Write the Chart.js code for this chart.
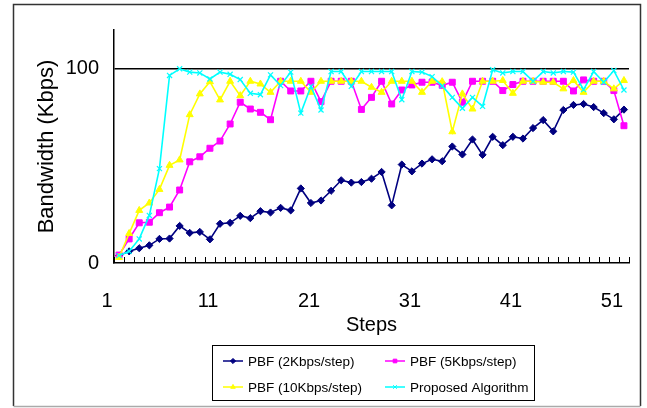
<!DOCTYPE html>
<html>
<head>
<meta charset="utf-8">
<script src="https://cdn.jsdelivr.net/npm/chart.js@4.4.1/dist/chart.umd.min.js"></script>
<style>
  html, body { margin: 0; padding: 0; background: #fff; }
  #wrap { width: 647px; height: 408px; position: relative; }
</style>
</head>
<body>
<div id="wrap"><canvas id="c" width="647" height="408"></canvas></div>
<script>
// Step numbers along the x axis
const steps = ['1','2','3','4','5','6','7','8','9','10','11','12','13','14','15','16','17','18','19','20',
  '21','22','23','24','25','26','27','28','29','30','31','32','33','34','35','36','37','38','39','40',
  '41','42','43','44','45','46','47','48','49','50','51'];

// Bandwidth (Kbps) per step for each scheme
const pbf2 = [3.8, 6.0, 7.6, 9.1, 12.4, 12.6, 19.1, 15.5, 16.0, 12.2,
  20.2, 20.7, 24.3, 23.1, 26.7, 26.0, 28.4, 27.1, 38.4, 30.9,
  32.2, 37.2, 42.6, 41.4, 41.7, 43.4, 46.9, 29.7, 50.7, 47.2,
  51.2, 53.4, 52.4, 60.0, 55.9, 63.6, 55.7, 65.0, 60.7, 65.0,
  64.1, 69.5, 73.6, 67.8, 78.8, 81.4, 81.9, 80.3, 77.2, 74.0, 79.0];

const pbf5 = [4.1, 12.4, 20.7, 21.0, 25.9, 28.8, 37.6, 52.1, 54.7, 59.1,
  62.8, 71.6, 82.8, 79.3, 77.6, 73.8, 93.6, 88.6, 88.6, 93.6,
  83.1, 93.6, 93.6, 93.6, 79.1, 85.3, 93.6, 81.9, 89.1, 91.7,
  93.1, 93.1, 91.5, 93.1, 82.8, 93.6, 93.6, 93.6, 88.8, 91.9,
  93.6, 93.6, 93.6, 93.6, 93.6, 88.6, 94.3, 93.6, 93.6, 88.8, 70.7];

const pbf10 = [2.9, 15.2, 27.1, 30.9, 37.9, 50.3, 53.1, 76.4, 87.1, 93.4,
  84.0, 93.6, 86.2, 93.6, 92.2, 87.9, 93.6, 93.6, 93.6, 87.9,
  93.6, 93.6, 93.6, 93.6, 93.6, 90.5, 87.9, 93.6, 93.6, 93.6,
  87.9, 93.6, 93.4, 67.6, 87.1, 79.3, 93.6, 93.6, 94.0, 87.4,
  93.6, 93.6, 93.1, 93.1, 89.7, 94.0, 87.9, 93.6, 93.6, 89.7, 94.0];

const proposed = [3.8, 6.0, 12.4, 24.5, 48.6, 96.6, 100, 98.3, 97.9, 94.8,
  98.3, 97.2, 94.5, 87.4, 86.7, 96.9, 91.4, 98.3, 77.2, 91.0,
  78.8, 98.6, 98.6, 91.0, 98.6, 98.6, 98.6, 98.6, 84.1, 98.6,
  98.3, 96.0, 91.2, 85.3, 79.7, 85.3, 80.7, 99.5, 97.9, 98.6,
  98.6, 93.6, 98.6, 97.9, 98.6, 98.3, 89.3, 98.6, 93.1, 99.1, 89.1];

const yTickValues = [0, 100];

const FONT = "'Liberation Sans', Arial, Helvetica, sans-serif";

// White page with a thin frame round the whole figure
const framePlugin = {
  id: 'frame',
  beforeDraw(chart) {
    const ctx = chart.ctx;
    ctx.save();
    ctx.fillStyle = '#fff';
    ctx.fillRect(0, 0, chart.width, chart.height);
    ctx.lineWidth = 1.5;
    ctx.strokeStyle = '#333';
    ctx.beginPath();
    ctx.moveTo(13.5, 406);
    ctx.lineTo(13.5, 4.5);
    ctx.lineTo(640.5, 4.5);
    ctx.lineTo(640.5, 406);
    ctx.stroke();
    ctx.strokeStyle = '#aaa';
    ctx.beginPath();
    ctx.moveTo(13.5, 406.5);
    ctx.lineTo(640.5, 406.5);
    ctx.stroke();
    ctx.restore();
  }
};

// Short tick marks on the category boundaries, pointing into the plot
const innerTicksPlugin = {
  id: 'innerTicks',
  afterDraw(chart) {
    const xs = chart.scales.x;
    const ctx = chart.ctx;
    const half = (xs.getPixelForValue(1) - xs.getPixelForValue(0)) / 2;
    ctx.save();
    ctx.strokeStyle = '#000';
    ctx.lineWidth = 1;
    ctx.beginPath();
    for (let k = 0; k <= steps.length; k++) {
      const px = Math.round(xs.getPixelForValue(k) - half) + 0.5;
      ctx.moveTo(px, xs.top);
      ctx.lineTo(px, xs.top - 6);
    }
    ctx.stroke();
    ctx.restore();
  }
};

// Boxed two-column legend under the axis title
const boxLegendPlugin = {
  id: 'boxLegend',
  afterDraw(chart) {
    const ctx = chart.ctx;
    const box = { x: 212.5, y: 345.5, w: 322, h: 55 };
    ctx.save();
    ctx.strokeStyle = '#000';
    ctx.lineWidth = 1;
    ctx.strokeRect(box.x, box.y, box.w, box.h);
    const slots = [
      { ds: 0, x: 223, y: 361 },
      { ds: 1, x: 385, y: 361 },
      { ds: 2, x: 223, y: 387 },
      { ds: 3, x: 385, y: 387 }
    ];
    ctx.font = '13.5px ' + FONT;
    ctx.textBaseline = 'middle';
    ctx.textAlign = 'left';
    slots.forEach(s => {
      const d = chart.data.datasets[s.ds];
      ctx.strokeStyle = d.borderColor;
      ctx.lineWidth = 1.5;
      ctx.beginPath();
      ctx.moveTo(s.x, s.y);
      ctx.lineTo(s.x + 20, s.y);
      ctx.stroke();
      ctx.fillStyle = d.pointBackgroundColor;
      ctx.strokeStyle = d.pointBorderColor;
      ctx.lineWidth = 1;
      Chart.helpers.drawPoint(ctx, { pointStyle: d.pointStyle, radius: 2.6, rotation: 0, borderWidth: 1 }, s.x + 10, s.y);
      ctx.fillStyle = '#000';
      ctx.fillText(d.label, s.x + 25, s.y + 1);
    });
    ctx.restore();
  }
};

const ctx = document.getElementById('c').getContext('2d');
new Chart(ctx, {
  type: 'line',
  data: {
    labels: steps,
    datasets: [
      {
        label: 'PBF (2Kbps/step)', data: pbf2, order: 3,
        borderColor: '#000080', backgroundColor: '#000080',
        pointBackgroundColor: '#000080', pointBorderColor: '#000080',
        pointStyle: 'rectRot', pointRadius: 3.6, borderWidth: 1.6, pointBorderWidth: 1
      },
      {
        label: 'PBF (5Kbps/step)', data: pbf5, order: 2,
        borderColor: '#ff00ff', backgroundColor: '#ff00ff',
        pointBackgroundColor: '#ff00ff', pointBorderColor: '#ff00ff',
        pointStyle: 'rect', pointRadius: 4.2, borderWidth: 1.6, pointBorderWidth: 1
      },
      {
        label: 'PBF (10Kbps/step)', data: pbf10, order: 1,
        borderColor: '#ffff00', backgroundColor: '#ffff00',
        pointBackgroundColor: '#ffff00', pointBorderColor: '#ffff00',
        pointStyle: 'triangle', pointRadius: 4, borderWidth: 1.6, pointBorderWidth: 1
      },
      {
        label: 'Proposed Algorithm', data: proposed, order: 0,
        borderColor: '#00ffff', backgroundColor: '#00ffff',
        pointBackgroundColor: '#00ffff', pointBorderColor: '#00ffff',
        pointStyle: 'crossRot', pointRadius: 3.6, borderWidth: 1.6, pointBorderWidth: 1.2
      }
    ]
  },
  options: {
    responsive: false,
    animation: false,
    devicePixelRatio: 1,
    layout: { padding: { left: 14, top: 30, right: 18, bottom: 63 } },
    plugins: {
      legend: { display: false },
      tooltip: { enabled: false }
    },
    elements: { line: { tension: 0 } },
    scales: {
      x: {
        type: 'category',
        offset: true,
        grid: { display: false },
        border: { display: true, color: '#000', width: 1.5 },
        ticks: {
          autoSkip: false,
          maxRotation: 0,
          minRotation: 0,
          padding: 18,
          labelOffset: -12,
          color: '#000',
          font: { family: FONT, size: 20 },
          callback: (v, i) => (i % 10 === 0 ? steps[i] : '')
        },
        title: {
          display: true,
          text: 'Steps',
          color: '#000',
          font: { family: FONT, size: 20 },
          padding: { top: 0, bottom: 8 }
        },
        afterFit(scale) {
          scale.height = 82;
          scale.paddingLeft = 0;
          scale.paddingRight = 0;
        }
      },
      y: {
        min: 0,
        max: 120,
        afterBuildTicks(scale) { scale.ticks = yTickValues.map(v => ({ value: v })); },
        grid: {
          drawTicks: false,
          lineWidth: 1.5,
          color: c => (c.tick && c.tick.value === 100 ? '#000' : 'rgba(0,0,0,0)')
        },
        border: { display: true, color: '#000', width: 1.5 },
        ticks: {
          padding: 15,
          color: '#000',
          font: { family: FONT, size: 20 }
        },
        title: {
          display: true,
          text: 'Bandwidth (Kbps)',
          color: '#000',
          font: { family: FONT, size: 22 },
          padding: { top: 20, bottom: 0 }
        },
        afterFit(scale) { scale.width = 100; }
      }
    }
  },
  plugins: [framePlugin, innerTicksPlugin, boxLegendPlugin]
});
</script>
</body>
</html>
